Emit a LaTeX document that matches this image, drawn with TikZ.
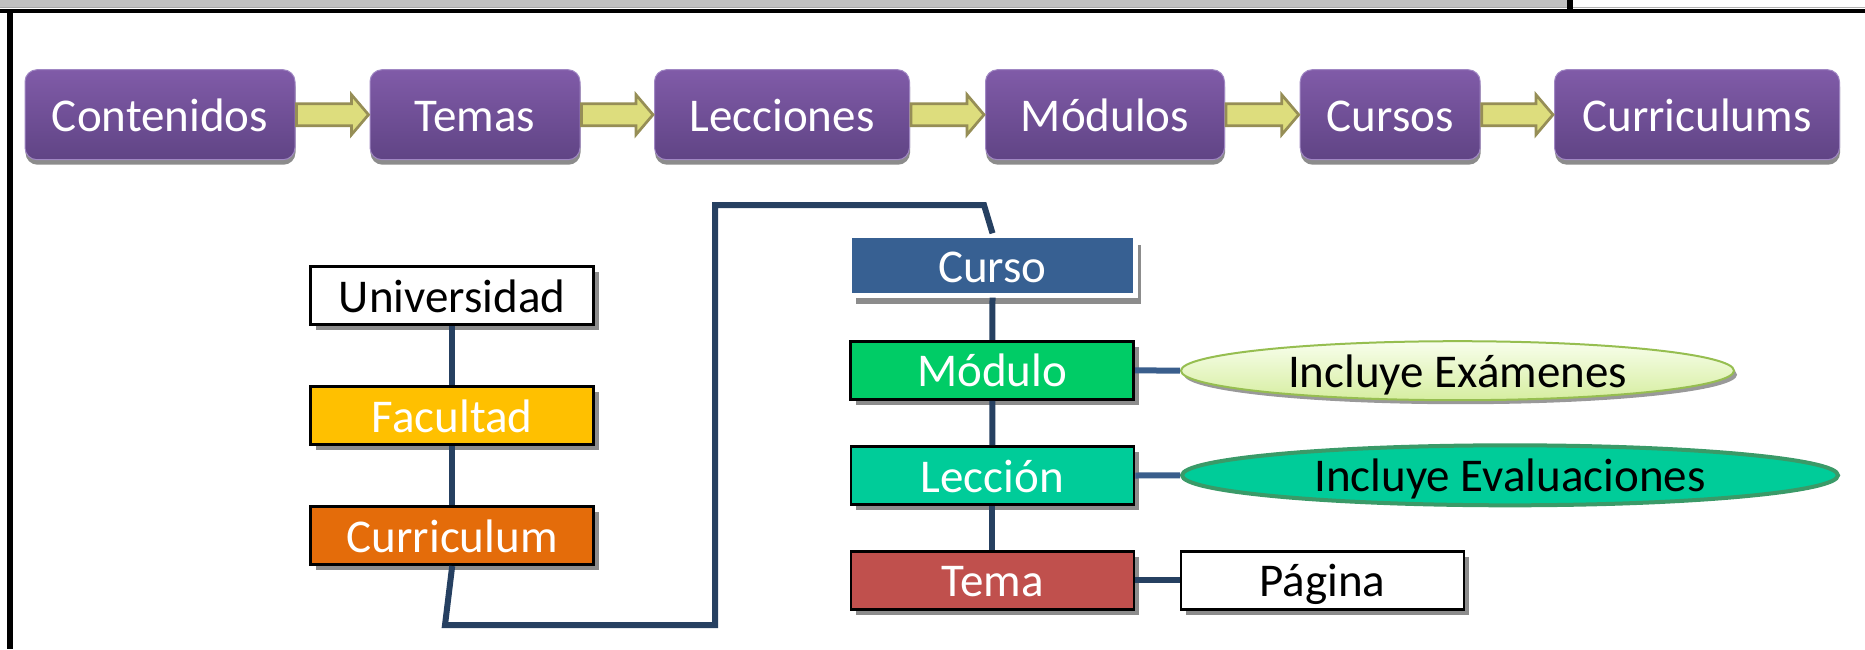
\documentclass[tikz,border=0pt]{standalone}
\usepackage{fontspec}
\setmainfont{Carlito}
\usetikzlibrary{shadows,shapes.geometric,calc}
\definecolor{barGray}{RGB}{192,192,192}
\definecolor{purpTop}{RGB}{128,91,168}
\definecolor{purpBot}{RGB}{96,68,133}
\definecolor{purpEdge}{RGB}{160,135,195}
\definecolor{arrFill}{RGB}{221,221,125}
\definecolor{arrEdge}{RGB}{150,142,86}
\definecolor{navy}{RGB}{38,64,97}
\definecolor{navyLight}{RGB}{58,94,140}
\definecolor{facCol}{RGB}{255,192,0}
\definecolor{curCol}{RGB}{228,108,10}
\definecolor{cursoCol}{RGB}{55,96,146}
\definecolor{modCol}{RGB}{0,204,102}
\definecolor{lecCol}{RGB}{0,204,153}
\definecolor{temaCol}{RGB}{192,80,77}
\definecolor{ellTop}{RGB}{248,254,236}
\definecolor{ellBot}{RGB}{214,238,160}
\definecolor{ellEdge}{RGB}{150,190,80}
\definecolor{ellTwoEdge}{RGB}{58,154,104}
\tikzset{
  txt/.style={font=\fontsize{47}{56}\selectfont, inner sep=0pt, text height=35pt, text depth=2pt},
  pbox/.style={txt, rounded corners=12pt, top color=purpTop, bottom color=purpBot,
    draw=purpEdge, line width=1pt, text=white, minimum height=90pt,
    drop shadow={shadow xshift=0.5pt, shadow yshift=-5pt, fill=black!45, opacity=1}},
  hbox/.style={txt, draw=black, line width=2.7pt, minimum width=283pt, minimum height=58.3pt,
    drop shadow={shadow xshift=5.5pt, shadow yshift=-5.5pt, fill=black!45, opacity=1}},
  conn/.style={draw=navy, line width=6pt},
  connlight/.style={draw=navyLight, line width=6pt},
  barrow/.style={fill=arrFill, draw=arrEdge, line width=2.7pt, line join=miter},
}
\newcommand{\blockarr}[2]{%
  \draw[barrow] let \p1=(#1.east), \p2=(#2.west) in
    ({\x1+1pt},{\y1+11pt}) -- ({\x2-18pt},{\y1+11pt}) -- ({\x2-18pt},{\y1+20pt}) --
    ({\x2-1pt},{\y1}) -- ({\x2-18pt},{\y1-20pt}) -- ({\x2-18pt},{\y1-11pt}) --
    ({\x1+1pt},{\y1-11pt}) -- cycle;}
\begin{document}
\begin{tikzpicture}[x=1pt,y=-1pt]
\useasboundingbox (0,0) rectangle (1865,649);
\fill[white] (0,0) rectangle (1865,649);
% frame
\fill[barGray] (0,0) rectangle (1567,7.5);
\draw[gray!70, line width=1pt] (0,7) -- (1567,7);
\draw[gray!60, line width=1pt] (1573,7) -- (1865,7);
\fill[black] (1567,0) rectangle (1573,9);
\fill[black] (0,8.5) rectangle (1865,13);
\fill[black] (7,8.5) rectangle (12.5,649);
% purple chain
\node[pbox, minimum width=270pt] (cont) at (160,114.7) {Contenidos};
\node[pbox, minimum width=210pt] (temas) at (475,114.7) {Temas};
\node[pbox, minimum width=255pt] (lecc) at (782,114.7) {Lecciones};
\node[pbox, minimum width=239pt] (modu) at (1105,114.7) {Módulos};
\node[pbox, minimum width=180pt] (curs) at (1390.2,114.7) {Cursos};
\node[pbox, minimum width=285pt] (curr) at (1697,114.7) {Curriculums};
\blockarr{cont}{temas}
\blockarr{temas}{lecc}
\blockarr{lecc}{modu}
\blockarr{modu}{curs}
\blockarr{curs}{curr}
% left column
\node[hbox, fill=white] (univ) at (452.2,295.5) {Universidad};
\node[hbox, fill=facCol, text=white] (fac) at (452.2,415.5) {Facultad};
\node[hbox, fill=curCol, text=white] (curric) at (452.2,535.5) {Curriculum};
% right column
\node[txt, fill=cursoCol, draw=white, line width=5pt, text=white, minimum width=285.4pt, minimum height=59.4pt,
  drop shadow={shadow xshift=6pt, shadow yshift=-9pt, fill=black!45, opacity=1}] (curso) at (992.5,265.5) {Curso};
\node[hbox, fill=modCol, text=white] (modulo) at (992.3,370.3) {Módulo};
\node[hbox, fill=lecCol, text=white] (leccion) at (992.4,475.5) {Lección};
\node[hbox, fill=temaCol, text=white] (tema) at (992.4,580.3) {Tema};
\node[hbox, fill=white] (pagina) at (1322.4,580.3) {Página};
\node[txt, ellipse, minimum width=553pt, minimum height=59pt, top color=ellTop, bottom color=ellBot,
  draw=ellEdge, line width=2pt,
  drop shadow={shadow xshift=3pt, shadow yshift=-4pt, fill=black!40, opacity=1}] (exam) at (1457.5,370.7) {Incluye Exámenes};
\node[txt, ellipse, minimum width=656pt, minimum height=60pt, fill=lecCol, draw=ellTwoEdge, line width=4pt] (eval) at (1510,475.3) {Incluye Evaluaciones};
% connectors
\coordinate (k1) at (445,625);
\coordinate (k2) at (715,625);
\coordinate (k3) at (715,205);
\coordinate (k4) at (984,205);
\draw[conn] (univ.south) -- (fac.north);
\draw[conn] (fac.south) -- (curric.north);
\draw[conn, line join=miter] (curric.south) -- (k1) -- (k2) -- (k3) -- (k4) -- (curso.north);
\draw[conn] (curso.south) -- (modulo.north);
\draw[conn] (modulo.south) -- (leccion.north);
\draw[conn] (leccion.south) -- (tema.north);
\draw[connlight] (modulo.east) -- (exam.west);
\draw[connlight] (leccion.east) -- (eval.west);
\draw[conn] (tema.east) -- (pagina.west);
\end{tikzpicture}
\end{document}
